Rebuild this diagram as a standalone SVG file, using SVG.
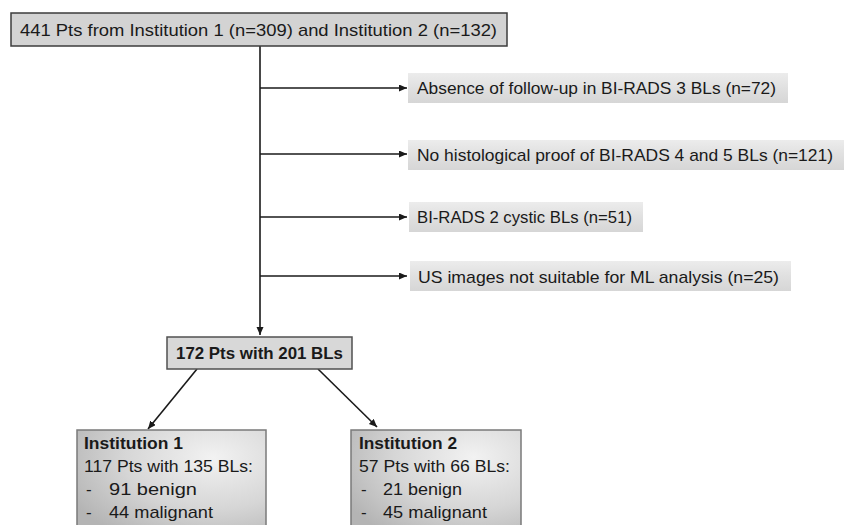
<svg xmlns="http://www.w3.org/2000/svg" width="844" height="525" viewBox="0 0 844 525">
<defs>
<style>
text{font-family:"Liberation Sans",Arial,sans-serif;font-size:17px;fill:#1a1a1a}
.b{font-weight:bold}
.conn{stroke:#1a1a1a;stroke-width:1.6;fill:none}
.topbox{fill:#d3d3d3;stroke:#3c3c3c;stroke-width:1.5}
.midbox{fill:#d8d8d8;stroke:#505050;stroke-width:1.5}
.excl{fill:url(#exg)}
.inst{fill:url(#ig);stroke:#7a7a7a;stroke-width:1.5}
</style>
<marker id="ah" markerUnits="userSpaceOnUse" markerWidth="9" markerHeight="8" refX="8" refY="3.5" orient="auto">
<path d="M0,0 L8,3.5 L0,7 z" fill="#1a1a1a"/>
</marker>
<linearGradient id="exg" x1="0" y1="0" x2="0" y2="1">
<stop offset="0" stop-color="#ececec"/>
<stop offset="0.5" stop-color="#e0e0e0"/>
<stop offset="1" stop-color="#d6d6d6"/>
</linearGradient>
<radialGradient id="ig" cx="0.72" cy="0.25" r="0.85">
<stop offset="0" stop-color="#f2f2f2"/>
<stop offset="0.55" stop-color="#d6d6d6"/>
<stop offset="1" stop-color="#b4b4b4"/>
</radialGradient>
</defs>
<rect width="844" height="525" fill="#ffffff"/>

<g id="connectors">
<path class="conn" d="M260,46 V335" marker-end="url(#ah)"/>
<path class="conn" d="M260,88 H407" marker-end="url(#ah)"/>
<path class="conn" d="M260,154 H407" marker-end="url(#ah)"/>
<path class="conn" d="M260,217 H407" marker-end="url(#ah)"/>
<path class="conn" d="M260,276 H407" marker-end="url(#ah)"/>
<path class="conn" d="M197,369 L148,429" marker-end="url(#ah)"/>
<path class="conn" d="M318,369 L377,427" marker-end="url(#ah)"/>
</g>

<g id="node-top">
<rect class="topbox" x="11" y="13" width="496" height="33"/>
<text x="20" y="36" textLength="477" lengthAdjust="spacingAndGlyphs">441 Pts from Institution 1 (n=309) and Institution 2 (n=132)</text>
</g>

<g id="node-excl1">
<rect class="excl" x="408" y="73" width="380" height="30"/>
<text x="417" y="94" textLength="359" lengthAdjust="spacingAndGlyphs">Absence of follow-up in BI-RADS 3 BLs (n=72)</text>
</g>

<g id="node-excl2">
<rect class="excl" x="408" y="140" width="436" height="30"/>
<text x="417" y="161" textLength="416" lengthAdjust="spacingAndGlyphs">No histological proof of BI-RADS 4 and 5 BLs (n=121)</text>
</g>

<g id="node-excl3">
<rect class="excl" x="409" y="202" width="234" height="30"/>
<text x="417" y="223" textLength="215" lengthAdjust="spacingAndGlyphs">BI-RADS 2 cystic BLs (n=51)</text>
</g>

<g id="node-excl4">
<rect class="excl" x="410" y="261" width="381" height="30"/>
<text x="418" y="283" textLength="361" lengthAdjust="spacingAndGlyphs">US images not suitable for ML analysis (n=25)</text>
</g>

<g id="node-mid">
<rect class="midbox" x="167" y="337" width="185" height="32"/>
<text class="b" x="176" y="359" textLength="167" lengthAdjust="spacingAndGlyphs">172 Pts with 201 BLs</text>
</g>

<g id="node-inst1">
<rect class="inst" x="77" y="430" width="189" height="110"/>
<text class="b" x="84" y="449" textLength="99" lengthAdjust="spacingAndGlyphs">Institution 1</text>
<text x="84" y="472" textLength="169" lengthAdjust="spacingAndGlyphs">117 Pts with 135 BLs:</text>
<text x="86" y="495">-</text>
<text x="109" y="495" textLength="88" lengthAdjust="spacingAndGlyphs">91 benign</text>
<text x="86" y="518">-</text>
<text x="109" y="518" textLength="104" lengthAdjust="spacingAndGlyphs">44 malignant</text>
</g>

<g id="node-inst2">
<rect class="inst" x="351" y="430" width="170" height="110"/>
<text class="b" x="359" y="449" textLength="98" lengthAdjust="spacingAndGlyphs">Institution 2</text>
<text x="359" y="472" textLength="151" lengthAdjust="spacingAndGlyphs">57 Pts with 66 BLs:</text>
<text x="361" y="495">-</text>
<text x="383" y="495" textLength="79" lengthAdjust="spacingAndGlyphs">21 benign</text>
<text x="361" y="518">-</text>
<text x="383" y="518" textLength="104" lengthAdjust="spacingAndGlyphs">45 malignant</text>
</g>
</svg>
